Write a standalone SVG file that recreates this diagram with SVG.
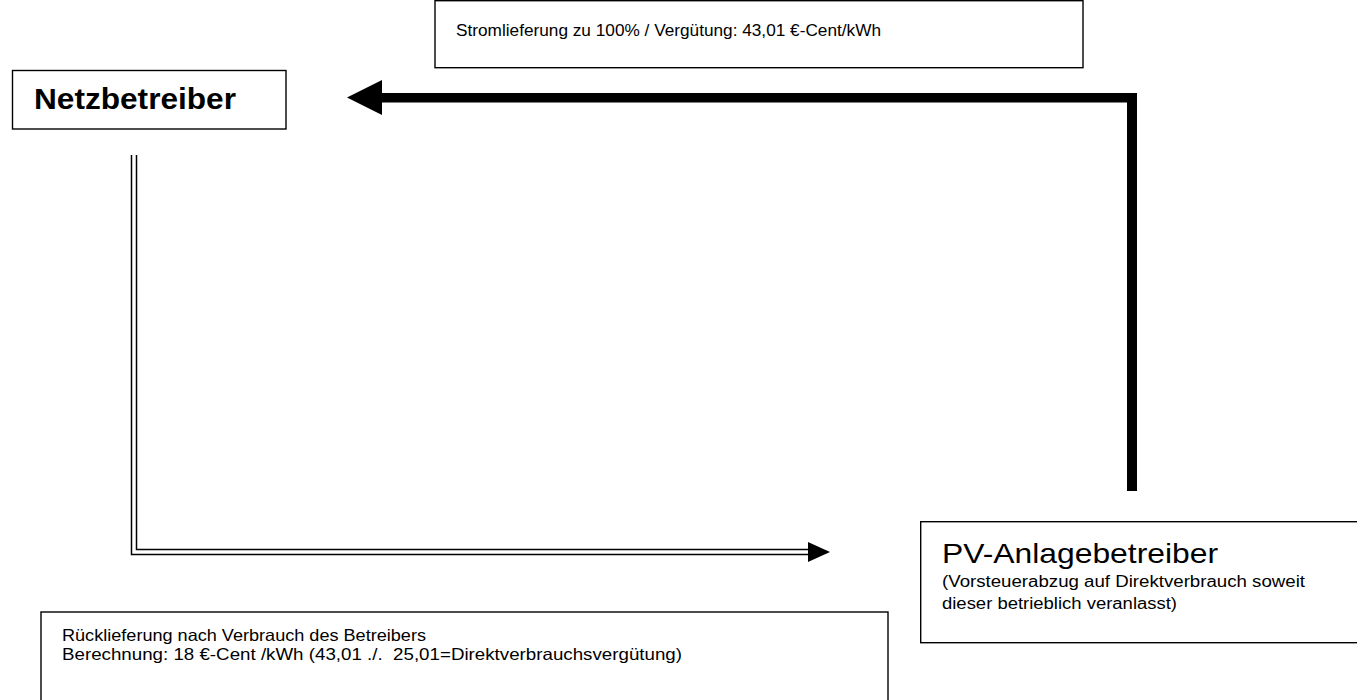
<svg xmlns="http://www.w3.org/2000/svg" width="1357" height="700" viewBox="0 0 1357 700">
<style>
.box{fill:#fff;stroke:#000;stroke-width:1.4}
.t{font-family:"Liberation Sans",Arial,sans-serif;fill:#000}
.s{font-size:16.5px}
.dl{stroke:#000;stroke-width:1.5;fill:none}
</style>
<rect width="1357" height="700" fill="#fff"/>
<g id="connectors">
  <g id="thick-arrow">
    <polygon points="347,97.5 382,80 382,115" fill="#000"/>
    <rect x="380" y="93" width="757" height="9.5" fill="#000"/>
    <rect x="1127" y="98" width="10" height="393" fill="#000"/>
  </g>
  <g id="double-arrow">
    <path class="dl" d="M131.5,155 V554.5 H812"/>
    <path class="dl" d="M136.5,155 V549.5 H812"/>
    <polygon points="808,542 830,552 808,562" fill="#000"/>
  </g>
</g>
<g id="top-label">
  <rect class="box" x="435" y="0.7" width="648" height="67"/>
  <text class="t s" x="456" y="36" textLength="425" lengthAdjust="spacingAndGlyphs">Stromlieferung zu 100% / Vergütung: 43,01 €-Cent/kWh</text>
</g>
<g id="netzbetreiber">
  <rect class="box" x="12.5" y="70.5" width="273.5" height="58.5"/>
  <text class="t" x="34" y="109" font-size="29" font-weight="bold" textLength="202" lengthAdjust="spacingAndGlyphs">Netzbetreiber</text>
</g>
<g id="pv-anlagebetreiber">
  <rect class="box" x="920.7" y="521.7" width="450" height="121"/>
  <text class="t" x="942" y="563" font-size="28" textLength="276" lengthAdjust="spacingAndGlyphs">PV-Anlagebetreiber</text>
  <text class="t" x="942" y="587" font-size="16" textLength="363" lengthAdjust="spacingAndGlyphs">(Vorsteuerabzug auf Direktverbrauch soweit</text>
  <text class="t" x="942" y="609" font-size="16" textLength="235" lengthAdjust="spacingAndGlyphs">dieser betrieblich veranlasst)</text>
</g>
<g id="bottom-label">
  <rect class="box" x="41" y="612" width="847" height="110"/>
  <text class="t s" x="62" y="641" textLength="364" lengthAdjust="spacingAndGlyphs">Rücklieferung nach Verbrauch des Betreibers</text>
  <text class="t s" x="62" y="660" textLength="620" lengthAdjust="spacingAndGlyphs" xml:space="preserve">Berechnung: 18 €-Cent /kWh (43,01 ./.  25,01=Direktverbrauchsvergütung)</text>
</g>
</svg>
